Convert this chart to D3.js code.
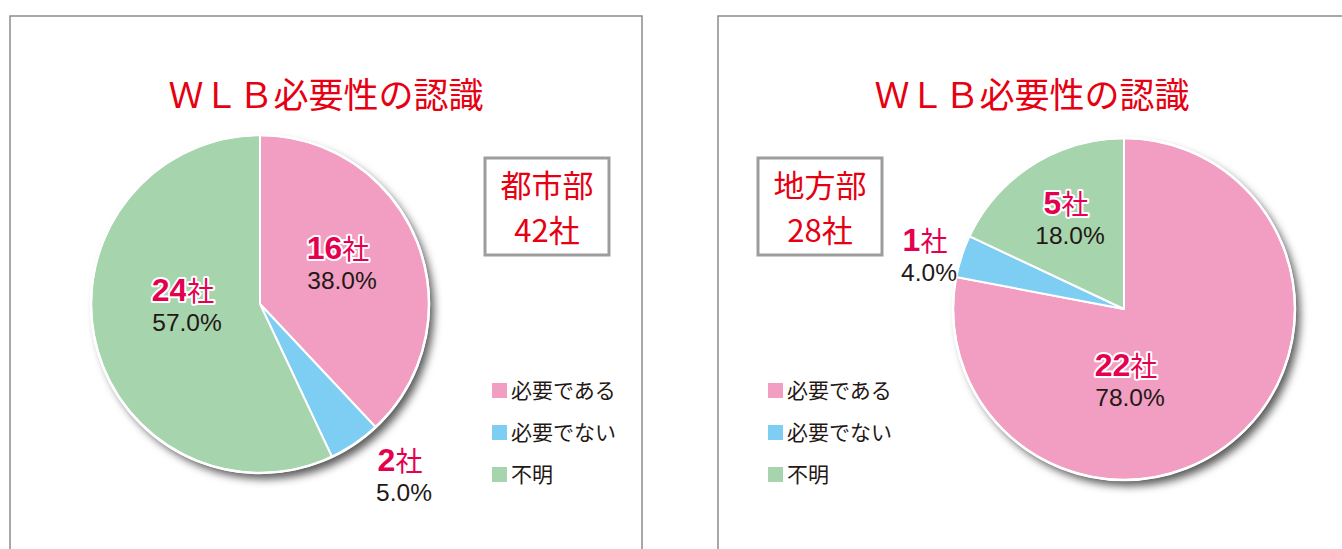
<!DOCTYPE html>
<html><head><meta charset="utf-8">
<script src="https://cdn.jsdelivr.net/npm/d3@7"></script>
<style>body{margin:0;background:#fff}svg{display:block}</style>
</head><body>
<svg id="c" width="1342" height="549"></svg>
<script>
const title = "ＷＬＢ必要性の認識";
const categories = ["必要である", "必要でない", "不明"];
const colors = ["#f19ec2", "#7ecef4", "#a6d4ad"];
const urbanName = ["都市部", "42社"];
const urbanCounts = [16, 2, 24];
const urbanPct = [38.0, 5.0, 57.0];
const ruralName = ["地方部", "28社"];
const ruralCounts = [22, 1, 5];
const ruralPct = [78.0, 4.0, 18.0];

const svg = d3.select("#c");
const JP = "'Noto Sans CJK JP','Noto Sans',sans-serif";
const LAT = "'Liberation Sans',Arial,sans-serif";
const RED = "#e60012", LRED = "#e5004f", DARK = "#231815";

const defs = svg.append("defs");
const f = defs.append("filter").attr("id","sh").attr("x","-20%").attr("y","-20%").attr("width","150%").attr("height","150%");
f.append("feDropShadow").attr("dx",5).attr("dy",6).attr("stdDeviation",4).attr("flood-color","#000").attr("flood-opacity",0.65);

function panel(o){
  const g = svg.append("g");
  g.append("rect").attr("x",o.px).attr("y",16).attr("width",o.pw).attr("height",600)
    .attr("fill","none").attr("stroke","#8c8c8c").attr("stroke-width",1.5);
  g.append("text").attr("x",o.px+o.pw/2).attr("y",108).attr("text-anchor","middle")
    .attr("font-family",JP).attr("font-size",35).attr("fill",RED).text(title);
  // name box
  g.append("rect").attr("x",o.bx).attr("y",158).attr("width",124).attr("height",97)
    .attr("fill","#fff").attr("stroke","#9d9d9d").attr("stroke-width",3);
  const nt = g.append("text").attr("text-anchor","middle")
      .attr("font-family",JP).attr("font-size",31).attr("fill",RED);
  o.name.forEach((t,i)=>{
    nt.append("tspan").attr("x",o.bx+62).attr("y",197+i*45).text(t);
  });
  // pie
  const pie = d3.pie().sort(null).value(d=>d)(o.pct);
  const arc = d3.arc().innerRadius(0).outerRadius(o.r);
  const pg = g.append("g").attr("transform",`translate(${o.cx},${o.cy})`);
  pg.append("circle").attr("r",o.r).attr("fill","#fff").attr("filter","url(#sh)");
  pg.selectAll("path.s").data(pie).join("path").attr("class","s").attr("d",arc)
    .attr("fill",(d,i)=>colors[i]).attr("stroke","#fff").attr("stroke-width",2).attr("stroke-linejoin","round");
  pg.append("circle").attr("r",o.r).attr("fill","none").attr("stroke","#fff").attr("stroke-width",2.5);
  // labels
  pie.forEach((d,i)=>{
    const p = o.lab[i];
    const t = pg.append("text").attr("x",p[0]).attr("y",p[1]).attr("text-anchor","middle")
      .attr("fill",LRED).attr("stroke","#fff").attr("stroke-width",4).attr("stroke-linejoin","round")
      .attr("paint-order","stroke");
    t.append("tspan").attr("font-family",LAT).attr("font-weight","bold").attr("font-size",32).text(o.counts[i]);
    t.append("tspan").attr("font-family",JP).attr("font-size",27).text("社");
    pg.append("text").attr("x",p[0]+4).attr("y",p[1]+30).attr("text-anchor","middle")
      .attr("font-family",LAT).attr("font-size",24.5).attr("fill",DARK).text(o.pct[i].toFixed(1)+"%");
  });
  // legend
  categories.forEach((c,i)=>{
    const y = 391 + i*42;
    g.append("rect").attr("x",o.lx).attr("y",y-8).attr("width",15).attr("height",15).attr("fill",colors[i]);
    g.append("text").attr("x",o.lx+19).attr("y",y+7).attr("font-family",JP).attr("font-size",21)
      .attr("fill",DARK).text(c);
  });
}

panel({px:10,pw:632,bx:485,name:urbanName,cx:260,cy:304,r:169,pct:urbanPct,counts:urbanCounts,
  lab:[[78,-45],[140,167],[-77,-3]],lx:492});
panel({px:718,pw:628,bx:758,name:ruralName,cx:1124,cy:309,r:171,pct:ruralPct,counts:ruralCounts,
  lab:[[2,67],[-199,-58],[-58,-95]],lx:768});
</script>
</body></html>
